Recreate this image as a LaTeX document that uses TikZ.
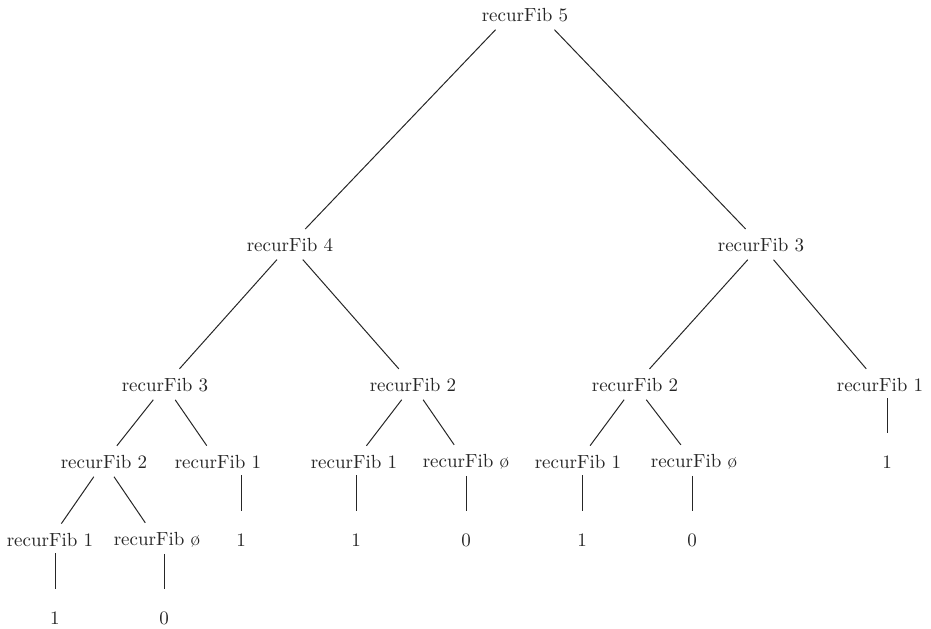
\documentclass[tikz,border=0pt]{standalone}
\usepackage{tikz}
\usetikzlibrary{positioning}

\begin{document}
\begin{tikzpicture}[
  on grid,
  call/.style={inner sep=3pt, font=\fontsize{9.5pt}{11pt}\selectfont, text=black!85},
  result/.style={inner sep=3pt, font=\fontsize{9.5pt}{11pt}\selectfont, text=black!85},
  link/.style={line width=0.5pt, draw=black!85, shorten <=1pt, shorten >=2pt},
  stem/.style={line width=0.5pt, draw=black!85, shorten >=8pt},
]
\useasboundingbox (0,0) rectangle (465.5pt,-314pt);
\node[call] (f5) at (262.5pt,-7.5pt) {recurFib 5};
\node[call, below left=115pt and 117.5pt of f5] (f4) {recurFib 4};
\node[call, below right=115pt and 118pt of f5] (f3) {recurFib 3};
\node[call, below left=70pt and 62.5pt of f4] (f3a) {recurFib 3};
\node[call, below right=70pt and 61.5pt of f4] (f2a) {recurFib 2};
\node[call, below left=70pt and 63pt of f3] (f2b) {recurFib 2};
\node[call, below right=70pt and 59.5pt of f3] (f1a) {recurFib 1};
\node[call, below left=38.5pt and 30.5pt of f3a] (f2c) {recurFib 2};
\node[call, below right=38.5pt and 26.5pt of f3a] (f1b) {recurFib 1};
\node[call, below left=38.5pt and 29.5pt of f2a] (f1c) {recurFib 1};
\node[call, below right=38.5pt and 26.5pt of f2a] (f0a) {recurFib ø};
\node[call, below left=38.5pt and 28.5pt of f2b] (f1d) {recurFib 1};
\node[call, below right=38.5pt and 29.5pt of f2b] (f0b) {recurFib ø};
\node[result, below right=38.5pt and 3.5pt of f1a] (v1a) {1};
\node[call, below left=39pt and 27pt of f2c] (f1e) {recurFib 1};
\node[call, below right=39pt and 26.5pt of f2c] (f0c) {recurFib ø};
\node[result, below right=39pt and 11.5pt of f1b] (v1b) {1};
\node[result, below right=39pt and 1pt of f1c] (v1c) {1};
\node[result, below=39pt of f0a] (v0a) {0};
\node[result, below right=39pt and 2pt of f1d] (v1d) {1};
\node[result, below left=39pt and 1pt of f0b] (v0b) {0};
\node[result, below right=39pt and 2.5pt of f1e] (v1e) {1};
\node[result, below right=39pt and 3.5pt of f0c] (v0c) {0};

\draw[link] ([xshift=-14pt]f5.south) -- (f4);
\draw[link] ([xshift=14pt]f5.south) -- (f3);
\draw[link] (f4) -- (f3a);
\draw[link] (f4) -- (f2a);
\draw[link] (f3) -- (f2b);
\draw[link] (f3) -- (f1a);
\draw[link] (f3a) -- (f2c);
\draw[link] (f3a) -- (f1b);
\draw[link] (f2a) -- (f1c);
\draw[link] (f2a) -- (f0a);
\draw[link] (f2b) -- (f1d);
\draw[link] (f2b) -- (f0b);
\draw[link] (f2c) -- (f1e);
\draw[link] (f2c) -- (f0c);

\draw[stem] (f1a.south -| v1a) -- (v1a.north);
\draw[stem] (f1b.south -| v1b) -- (v1b.north);
\draw[stem] (f1c.south -| v1c) -- (v1c.north);
\draw[stem] (f0a.south -| v0a) -- (v0a.north);
\draw[stem] (f1d.south -| v1d) -- (v1d.north);
\draw[stem] (f0b.south -| v0b) -- (v0b.north);
\draw[stem] (f1e.south -| v1e) -- (v1e.north);
\draw[stem] (f0c.south -| v0c) -- (v0c.north);
\end{tikzpicture}
\end{document}
